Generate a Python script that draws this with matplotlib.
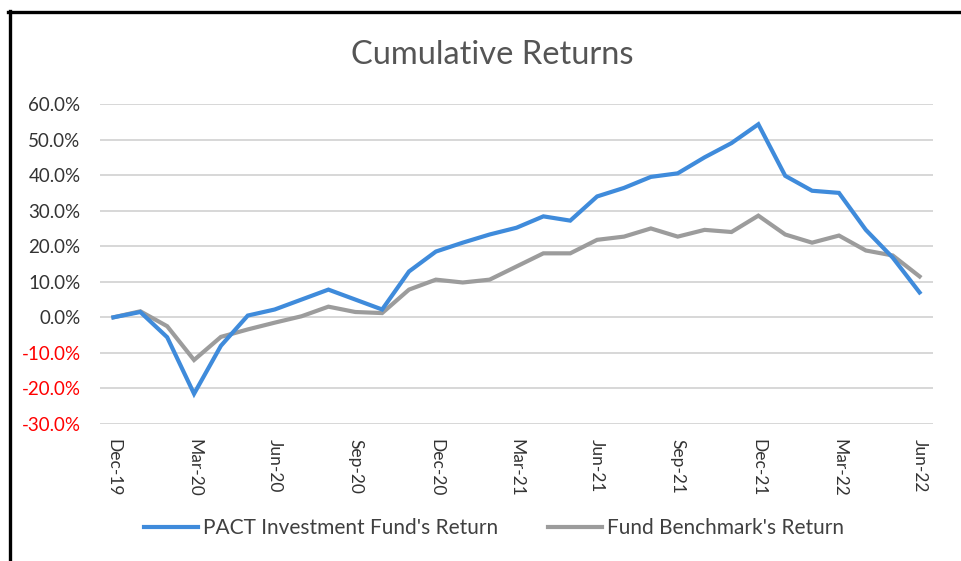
import matplotlib.pyplot as plt
from matplotlib.lines import Line2D
from matplotlib.ticker import FuncFormatter

plt.rcParams['font.family'] = ['Lato', 'DejaVu Sans']

# monthly cumulative returns (%), Dec-19 .. Jun-22
pact_return = [0.0, 1.5, -5.6, -21.5, -8.0, 0.5, 2.2, 5.0, 7.8, 5.0, 2.2,
               12.9, 18.5, 21.0, 23.3, 25.2, 28.4, 27.2, 34.0, 36.4, 39.5,
               40.5, 45.0, 49.0, 54.3, 39.8, 35.6, 35.0, 24.6, 16.8, 7.0]
benchmark_return = [0.0, 1.7, -2.5, -12.0, -5.5, -3.4, -1.5, 0.3, 3.0, 1.5, 1.2,
                    7.8, 10.6, 9.8, 10.6, 14.3, 18.0, 18.0, 21.8, 22.7, 25.0,
                    22.7, 24.6, 24.0, 28.6, 23.3, 21.0, 23.0, 18.8, 17.4, 11.5]
tick_labels = ['Dec-19', 'Mar-20', 'Jun-20', 'Sep-20', 'Dec-20', 'Mar-21',
               'Jun-21', 'Sep-21', 'Dec-21', 'Mar-22', 'Jun-22']
y_ticks = [-30, -20, -10, 0, 10, 20, 30, 40, 50, 60]

months = list(range(len(pact_return)))

fig = plt.figure(figsize=(9.62, 5.61), dpi=100)
ax = fig.add_axes([100 / 962, 1 - 424 / 561, 833 / 962, 320 / 561])

ax.plot(months, pact_return, color='#3F8BDB', lw=3.0, solid_joinstyle='miter',
        label="PACT Investment Fund's Return", zorder=3)
ax.plot(months, benchmark_return, color='#9C9C9C', lw=3.0, solid_joinstyle='miter',
        label="Fund Benchmark's Return", zorder=2)

ax.set_xlim(-0.5, len(months) - 0.5)
ax.set_ylim(-30, 60)
ax.set_yticks(y_ticks)
ax.yaxis.set_major_formatter(FuncFormatter(lambda v, _: f'{v:.1f}%'))
for lbl, v in zip(ax.get_yticklabels(), y_ticks):
    lbl.set_color('#FF0000' if v < 0 else '#333333')
ax.tick_params(axis='y', length=0, pad=14, labelsize=13.5)

ax.set_xticks(months[::3])
ax.set_xticklabels(tick_labels, rotation=-90, va='top', ha='center',
                   fontsize=12.5, color='#333333')
ax.tick_params(axis='x', length=0, pad=11)

ax.grid(axis='y', color='#D4D4D4', lw=1.3)
ax.set_axisbelow(True)
for s in ax.spines.values():
    s.set_visible(False)

fig.text(492 / 962, 1 - 55 / 561, 'Cumulative Returns', ha='center', va='center',
         fontsize=23.5, color='#555555')

fig.legend(loc='center', bbox_to_anchor=(494 / 962, 1 - 528 / 561), ncol=2,
           frameon=False, fontsize=15, handlelength=2.6, handletextpad=0.25,
           columnspacing=2.4, labelcolor='#404040')

# black frame (left and top edges visible)
fig.add_artist(Line2D([9.5 / 962, 9.5 / 962], [0, 1 - 11 / 561], color='black', lw=2.4,
                      transform=fig.transFigure))
fig.add_artist(Line2D([8 / 962, 1], [1 - 12 / 561, 1 - 12 / 561], color='black', lw=2.4,
                      transform=fig.transFigure))

fig.savefig('out.png', dpi=100)
